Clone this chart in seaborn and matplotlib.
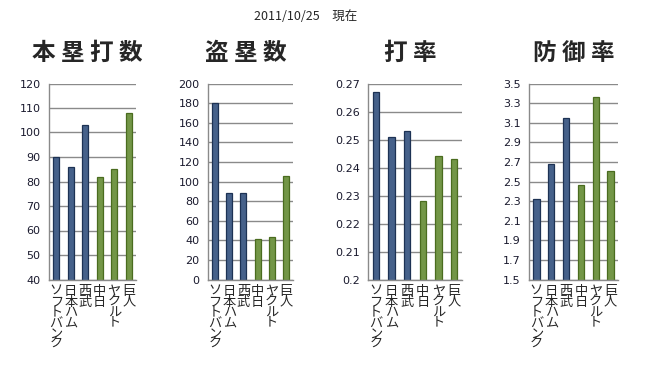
import numpy as np
import pandas as pd
import matplotlib
matplotlib.use('Agg')
import matplotlib.pyplot as plt
import seaborn as sns

teams = ['ソフトバンク', '日本ハム', '西武', '中日', 'ヤクルト', '巨人']
league = ['パ', 'パ', 'パ', 'セ', 'セ', 'セ']
homeruns = [90, 86, 103, 82, 85, 108]
steals = [180, 88, 88, 41, 43, 106]
avg = [0.267, 0.251, 0.253, 0.228, 0.244, 0.243]
era = [2.32, 2.68, 3.15, 2.46, 3.36, 2.61]

titles = ['本塁打数', '盗塁数', '打率', '防御率']
subtitle = '2011/10/25\u3000現在'

sns.set_style('white')
plt.rcParams['font.family'] = ['DejaVu Sans', 'Noto Sans CJK JP']

fig = plt.figure(figsize=(6.49, 3.73), dpi=100)

# 各パネルの設定
panels = [
    (homeruns, [49, 87], (40, 120), np.arange(40, 121, 10), '{:.0f}'),
    (steals, [208, 85], (0, 200), np.arange(0, 201, 20), '{:.0f}'),
    (avg, [368, 94], (0.2, 0.27), np.arange(0.20, 0.2701, 0.01), '{:g}'),
    (era, [529, 89], (1.5, 3.5), np.arange(1.5, 3.51, 0.2), '{:.1f}'),
]
title_x = [87, 246, 410, 574]

palette = {'パ': '#3b5f95', 'セ': '#74a33a'}
edges = {'パ': '#1d3254', 'セ': '#4a6c1f'}

W, H = 649, 373
for (vals, (left, width), ylim, yticks, fmt), title, tx in zip(panels, titles, title_x):
    ax = fig.add_axes([left / W, 1 - 279.5 / H, width / W, 196 / H])
    df = pd.DataFrame({'team': teams, 'value': vals, 'league': league})
    sns.barplot(data=df, x='team', y='value', hue='league', palette=palette,
                dodge=False, width=0.42, legend=False, ax=ax)
    for bar, lg in zip(ax.patches, league):
        bar.set_edgecolor(edges[lg])
        bar.set_linewidth(0.9)
    ax.set_ylim(*ylim)
    ax.set_xlim(-0.5, 5.5)
    ax.set_yticks(yticks)
    ax.set_yticklabels([fmt.format(round(t, 2)) for t in yticks], fontsize=8, color='#1a1a2e')
    ax.yaxis.grid(True, color='#8a8a8a', linewidth=1)
    ax.set_axisbelow(True)
    ax.set_xlabel('')
    ax.set_ylabel('')
    ax.set_xticks(range(len(teams)))
    ax.set_xticklabels(['\n'.join(t) for t in teams], fontsize=9.5,
                       family=['Noto Sans CJK JP'], linespacing=0.76, va='top')
    ax.tick_params(axis='x', length=0, pad=4)
    ax.set_xticks(np.arange(-0.5, 6, 1), minor=True)
    ax.tick_params(axis='x', which='minor', length=4, color='#8a8a8a', direction='out')
    ax.tick_params(axis='y', length=4, color='#8a8a8a', direction='out', pad=2)
    for s in ['top', 'right']:
        ax.spines[s].set_visible(False)
    for s in ['left', 'bottom']:
        ax.spines[s].set_color('#8a8a8a')
        ax.spines[s].set_linewidth(1)
    fig.text(tx / W, 1 - 53 / H, ' '.join(title), ha='center', va='center',
             fontsize=17, fontweight='bold', family=['Noto Sans CJK JP'])

fig.text(306 / W, 1 - 17 / H, subtitle, ha='center', va='center',
         fontsize=9, family=['Noto Sans CJK JP'])

fig.savefig('out.png', dpi=100)
